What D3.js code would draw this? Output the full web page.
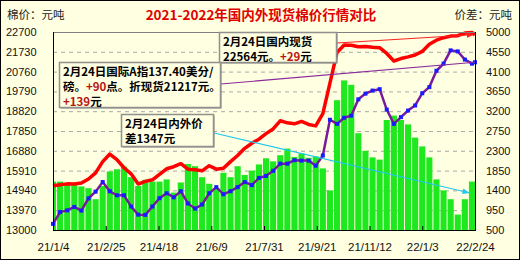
<!DOCTYPE html>
<html>
<meta charset="utf-8" />
<head>
<title>国内外现货棉价行情对比</title>
<script src="https://cdn.jsdelivr.net/npm/d3@7/dist/d3.min.js"></script>
<style>
	body { margin: 0; background: #fff; }
	text { font-family: "Liberation Sans", Arial, sans-serif; }
	.cjk { font-family: "Noto Sans CJK SC", sans-serif; }
</style>
</head>
<body>
<svg id="chart" width="525" height="263"></svg>
<script>
// 날짜 (주 단위), 마지막은 2022-02-24
const dates = [
	'2021-01-04','2021-01-11','2021-01-18','2021-01-25','2021-02-01','2021-02-08','2021-02-15','2021-02-22',
	'2021-03-01','2021-03-08','2021-03-15','2021-03-22','2021-03-29','2021-04-05','2021-04-12','2021-04-19',
	'2021-04-26','2021-05-03','2021-05-10','2021-05-17','2021-05-24','2021-05-31','2021-06-07','2021-06-14',
	'2021-06-21','2021-06-28','2021-07-05','2021-07-12','2021-07-19','2021-07-26','2021-08-02','2021-08-09',
	'2021-08-16','2021-08-23','2021-08-30','2021-09-06','2021-09-13','2021-09-20','2021-09-27','2021-10-04',
	'2021-10-11','2021-10-18','2021-10-25','2021-11-01','2021-11-08','2021-11-15','2021-11-22','2021-11-29',
	'2021-12-06','2021-12-13','2021-12-20','2021-12-27','2022-01-03','2022-01-10','2022-01-17','2022-01-24',
	'2022-01-31','2022-02-07','2022-02-14','2022-02-21','2022-02-24'
];
// 국내 현물 (左轴)
const domestic = [
	15170,15215,15260,15250,15300,15500,15800,16350,16720,16450,16050,15750,15250,15380,15460,15730,
	16000,16100,16250,15980,15950,15900,16150,15980,16020,16350,16650,17000,17250,17450,17720,17950,
	18350,18250,18200,18320,18170,18100,18700,20200,21700,22060,22050,21980,21990,21950,21930,21650,
	21280,21400,21480,21570,21750,22100,22300,22420,22500,22520,22650,22680,22564
];
// 国际A指折现货 (左轴)
const importPrice = [
	13300,13880,13960,14130,13950,14550,14880,15350,14900,14700,14700,14150,13750,13740,14150,14560,
	14800,14600,14900,14300,14050,14250,14800,15100,14750,14900,15100,15350,15200,15550,15650,15900,
	16250,16250,16420,16400,16400,16150,16650,18400,18200,18500,18600,19400,19680,19830,19900,18900,
	18200,18530,18850,19100,19700,20000,20800,21150,21800,21750,21350,21150,21217
];
// 内外价差 (右轴)
const spread = [
	1600,1600,1530,1520,1490,1450,1200,1500,1830,1880,1940,1700,1500,1640,1600,1600,
	1650,1350,1580,2000,1950,1700,1550,1450,1800,1700,1950,1750,1850,1990,2130,2060,
	2200,2350,2160,2240,2140,2170,1900,1400,3450,3900,3800,2700,2300,2150,2100,3000,
	3100,3000,2900,2600,2400,2150,1650,1400,1200,850,1200,1600,1347
];
const tickDates = ['2021-01-04','2021-02-25','2021-04-18','2021-06-09','2021-07-31','2021-09-21','2021-11-12','2022-01-03','2022-02-24'];
const leftTicks = [13000,13970,14940,15910,16880,17850,18820,19790,20760,21730,22700];
const rightTicks = [500,950,1400,1850,2300,2750,3200,3650,4100,4550,5000];

const parse = d3.timeParse('%Y-%m-%d');
const fmt = d3.timeFormat('%y/%-m/%-d');
const data = dates.map((d, i) => ({ date: parse(d), dom: domestic[i], imp: importPrice[i], diff: spread[i] }));

const svg = d3.select('#chart');
const L = 53, R = 475, T = 32, B = 230;

// 배경과 테두리
svg.append('rect').attr('x', 0.5).attr('y', 0.5).attr('width', 519).attr('height', 259)
	.attr('fill', '#ffffe1').attr('stroke', '#000');

const x = d3.scaleTime().domain([parse(dates[0]), parse(dates[dates.length - 1])]).range([L, R]);
const yL = d3.scaleLinear().domain([13000, 22700]).range([B, T]);
const yR = d3.scaleLinear().domain([500, 5000]).range([B, T]);

svg.append('defs').append('clipPath').attr('id', 'plotClip')
	.append('rect').attr('x', L).attr('y', T).attr('width', R - L).attr('height', B - T);

// 격자선
svg.append('g').selectAll('line').data(leftTicks.slice(1, -1)).enter()
	.append('line')
	.attr('x1', L).attr('x2', R)
	.attr('y1', d => yL(d) + 0.5).attr('y2', d => yL(d) + 0.5)
	.attr('stroke', '#a8a8a8').attr('stroke-dasharray', '4,4');

// 价差 막대
const step = x(parse(dates[1])) - x(parse(dates[0]));
svg.append('g').attr('clip-path', 'url(#plotClip)')
	.selectAll('rect').data(data).enter()
	.append('rect')
	.attr('x', d => x(d.date) - step / 2 + 0.5)
	.attr('width', step - 1)
	.attr('y', d => yR(d.diff))
	.attr('height', d => B - yR(d.diff))
	.attr('fill', '#1ee81e');

// 국내 현물 선
const domLine = d3.line().x(d => x(d.date)).y(d => yL(d.dom));
svg.append('path').attr('d', domLine(data))
	.attr('fill', 'none').attr('stroke', '#ff0000').attr('stroke-width', 3.5)
	.attr('stroke-linejoin', 'round');

// 国际 선 + 마커
const impLine = d3.line().x(d => x(d.date)).y(d => yL(d.imp));
svg.append('path').attr('d', impLine(data))
	.attr('fill', 'none').attr('stroke', '#7a1a9a').attr('stroke-width', 2.5);
svg.append('g').selectAll('rect').data(data).enter()
	.append('rect')
	.attr('x', d => x(d.date) - 2).attr('y', d => yL(d.imp) - 2)
	.attr('width', 4).attr('height', 4)
	.attr('fill', '#1a1aff');

// 축
svg.append('line').attr('x1', L).attr('x2', R).attr('y1', T + 0.5).attr('y2', T + 0.5).attr('stroke', '#808080');
svg.append('line').attr('x1', L + 0.5).attr('x2', L + 0.5).attr('y1', T).attr('y2', B).attr('stroke', '#000');
svg.append('line').attr('x1', R + 0.5).attr('x2', R + 0.5).attr('y1', T).attr('y2', B).attr('stroke', '#000');
svg.append('line').attr('x1', L).attr('x2', R + 1).attr('y1', B + 0.5).attr('y2', B + 0.5).attr('stroke', '#000');

const xAxis = d3.axisBottom(x).tickValues(tickDates.map(parse)).tickFormat(fmt).tickSize(-4).tickPadding(13);
const gx = svg.append('g').attr('transform', `translate(0,${B})`).call(xAxis);
gx.select('.domain').remove();
gx.selectAll('text').attr('font-size', 11.5).attr('fill', '#111').attr('font-family', '"Liberation Sans", Arial, sans-serif');

const gl = svg.append('g').attr('transform', `translate(${L},0)`)
	.call(d3.axisLeft(yL).tickValues(leftTicks).tickSize(0).tickPadding(18).tickFormat(d3.format('d')));
gl.select('.domain').remove();
gl.selectAll('text').attr('font-size', 11).attr('fill', '#111').attr('text-anchor', 'start').attr('x', -47)
	.attr('font-family', '"Liberation Sans", Arial, sans-serif');

const gr = svg.append('g').attr('transform', `translate(${R},0)`)
	.call(d3.axisRight(yR).tickValues(rightTicks).tickSize(0).tickPadding(11).tickFormat(d3.format('d')));
gr.select('.domain').remove();
gr.selectAll('text').attr('font-size', 11).attr('fill', '#111')
	.attr('font-family', '"Liberation Sans", Arial, sans-serif');

// 제목
svg.append('text').attr('class', 'cjk').attr('x', 261).attr('y', 20)
	.attr('text-anchor', 'middle').attr('font-size', 13.5).attr('font-weight', 'bold')
	.attr('fill', '#e00000').text('2021-2022年国内外现货棉价行情对比');
svg.append('text').attr('class', 'cjk').attr('x', 7).attr('y', 19)
	.attr('font-size', 11.5).attr('fill', '#222').text('棉价：元吨');
svg.append('text').attr('class', 'cjk').attr('x', 512).attr('y', 19)
	.attr('text-anchor', 'end').attr('font-size', 11.5).attr('fill', '#222').text('价差：元吨');

// 주석 상자와 화살표
const last = data[data.length - 1];
const defs = svg.select('defs');
[['arR', '#ff2020'], ['arP', '#8a2a9a'], ['arC', '#22c8f0']].forEach(a => {
	defs.append('marker').attr('id', a[0]).attr('viewBox', '0 0 10 10').attr('refX', 9).attr('refY', 5)
		.attr('markerWidth', 6).attr('markerHeight', 6).attr('orient', 'auto')
		.append('path').attr('d', 'M0,1L10,5L0,9Z').attr('fill', a[1]);
});
svg.append('line').attr('x1', 337).attr('y1', 43).attr('x2', x(last.date) - 2).attr('y2', yL(last.dom))
	.attr('stroke', '#ff2020').attr('stroke-width', 1.2).attr('marker-end', 'url(#arR)');
svg.append('line').attr('x1', 221).attr('y1', 84).attr('x2', x(last.date)).attr('y2', yL(last.imp))
	.attr('stroke', '#8a2a9a').attr('stroke-width', 1.2);
svg.append('line').attr('x1', 214).attr('y1', 133).attr('x2', x(last.date) - 6).attr('y2', yR(last.diff))
	.attr('stroke', '#22c8f0').attr('stroke-width', 1.2).attr('marker-end', 'url(#arC)');

function note(bx, by, bw, bh, lines) {
	svg.append('rect').attr('x', bx + 1.5).attr('y', by + 1.5).attr('width', bw).attr('height', bh).attr('fill', '#808080');
	svg.append('rect').attr('x', bx + 0.5).attr('y', by + 0.5).attr('width', bw).attr('height', bh)
		.attr('fill', '#ffffe1').attr('stroke', '#909090').attr('stroke-width', 1.5);
	lines.forEach((ln, i) => {
		const t = svg.append('text').attr('class', 'cjk').attr('x', bx + 4).attr('y', by + 14 + i * 15)
			.attr('font-size', 11.5).attr('font-weight', 'bold').attr('fill', '#000');
		ln.forEach(p => t.append('tspan').attr('fill', p[1] ? '#b81414' : '#000').text(p[0]));
	});
}
note(219, 32, 117, 30, [[['2月24日国内现货']], [['22564元。'], ['+29', 1], ['元']]]);
note(59, 62, 161, 45, [[['2月24日国际A指137.40美分/']], [['磅。'], ['+90', 1], ['点。折现货21217元。']], [['+139', 1], ['元']]]);
note(121, 114, 92, 32, [[['2月24日内外价']], [['差1347元']]]);
</script>
</body>
</html>
